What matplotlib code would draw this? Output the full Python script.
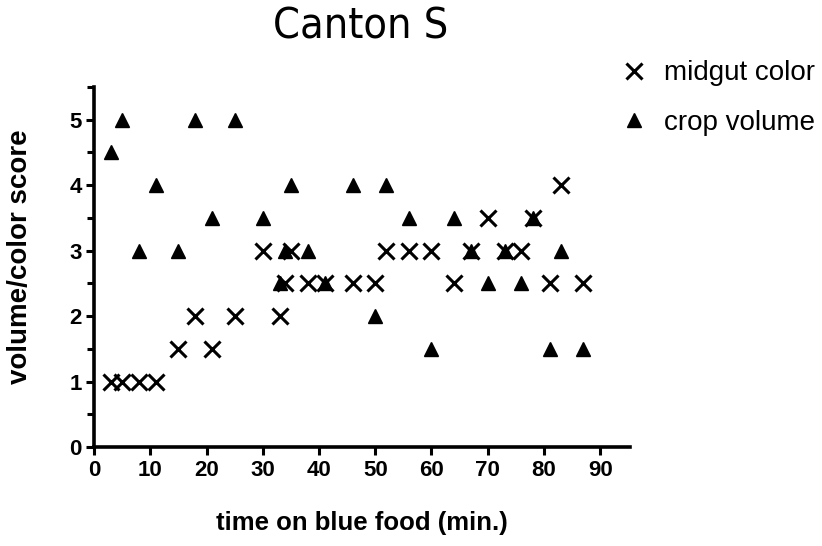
import matplotlib
matplotlib.use("Agg")
import matplotlib.pyplot as plt
from matplotlib.ticker import MultipleLocator

plt.rcParams['font.family'] = ['Liberation Sans', 'DejaVu Sans']

title = "Canton S"
xlabel = "time on blue food (min.)"
ylabel = "volume/color score"
series_names = ["midgut color", "crop volume"]

time_min = [3, 5, 8, 11, 15, 18, 21, 25, 30, 33, 34, 35, 38, 41, 46, 50,
            52, 56, 60, 64, 67, 70, 73, 76, 78, 81, 83, 87]
midgut_color = [1, 1, 1, 1, 1.5, 2, 1.5, 2, 3, 2, 2.5, 3, 2.5, 2.5, 2.5, 2.5,
                3, 3, 3, 2.5, 3, 3.5, 3, 3, 3.5, 2.5, 4, 2.5]
crop_time = [3, 5, 8, 11, 15, 18, 21, 25, 30, 33, 34, 35, 38, 41, 46, 50,
             52, 56, 60, 64, 67, 70, 73, 76, 78, 81, 83, 87]
crop_volume = [4.5, 5, 3, 4, 3, 5, 3.5, 5, 3.5, 2.5, 3, 4, 3, 2.5, 4, 2,
               4, 3.5, 1.5, 3.5, 3, 2.5, 3, 2.5, 3.5, 1.5, 3, 1.5]

xticks = [0, 10, 20, 30, 40, 50, 60, 70, 80, 90]
yticks = [0, 1, 2, 3, 4, 5]

fig = plt.figure(figsize=(8.22, 5.46), dpi=100)
ax = fig.add_axes([0.1144, 0.1813, 0.652, 0.6593])

ax.plot(time_min, midgut_color, linestyle='none', marker='x', ms=12, mew=2.2,
        color='black', label=series_names[0], clip_on=False)
ax.plot(crop_time, crop_volume, linestyle='none', marker='^', ms=10,
        color='black', label=series_names[1], clip_on=False)

ax.set_xlim(0, 95.3)
ax.set_ylim(0, 5.5)
ax.set_xticks(xticks)
ax.set_yticks(yticks)
ax.yaxis.set_minor_locator(MultipleLocator(0.5))

for s in ['top', 'right']:
    ax.spines[s].set_visible(False)
for s in ['left', 'bottom']:
    ax.spines[s].set_linewidth(2.6)

ax.tick_params(axis='both', which='major', direction='out', length=6, width=2.2,
               labelsize=16, pad=3)
ax.tick_params(axis='y', which='minor', direction='out', length=5, width=2.2)
for lbl in ax.get_xticklabels() + ax.get_yticklabels():
    lbl.set_fontweight('bold')

ax.set_xlabel(xlabel, fontsize=18.5, fontweight='bold', labelpad=22)
ax.set_ylabel(ylabel, fontsize=20, fontweight='bold')
ax.yaxis.set_label_coords(-0.114, 0.528)

fig.text(0.439, 0.99, title, fontsize=31, ha='center', va='top',
         fontstretch='condensed', family=['DejaVu Sans', 'Liberation Sans'])

leg = ax.legend(loc='upper left', bbox_to_anchor=(0.955, 1.105), frameon=False,
                fontsize=20, handletextpad=0.5, labelspacing=0.85,
                handlelength=1.2, borderaxespad=0)

fig.savefig("out.png", dpi=100)
